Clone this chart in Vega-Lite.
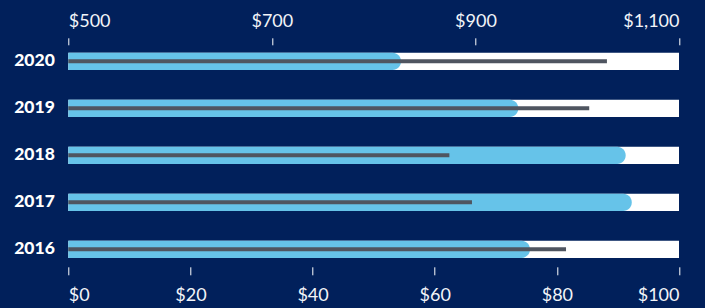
{
  "$schema": "https://vega.github.io/schema/vega-lite/v6.json",
  "autosize": {"type": "none"},
  "padding": {"left": 68.3, "top": 37.8, "right": 26, "bottom": 35.2},
  "width": 610.7,
  "height": 235,
  "background": "#01205B",
  "config": {
    "view": {"stroke": null},
    "font": "Lato",
    "axis": {"grid": false, "domain": false}
  },
  "data": {
    "values": [
      {"year": "2020", "price": 826.9, "cost": 88.2, "lo": 500, "hi": 1100},
      {"year": "2019", "price": 942.1, "cost": 85.3, "lo": 500, "hi": 1100},
      {"year": "2018", "price": 1047.6, "cost": 62.4, "lo": 500, "hi": 1100},
      {"year": "2017", "price": 1053.6, "cost": 66.1, "lo": 500, "hi": 1100},
      {"year": "2016", "price": 953.6, "cost": 81.5, "lo": 500, "hi": 1100}
    ]
  },
  "encoding": {
    "y": {
      "field": "year",
      "type": "nominal",
      "sort": "descending",
      "scale": {"paddingInner": 0, "paddingOuter": 0},
      "axis": {
        "title": null,
        "ticks": false,
        "labelColor": "#FFFFFF",
        "labelFont": "Lato",
        "labelFontWeight": 900,
        "labelFontSize": 17.5,
        "labelPadding": 14
      }
    }
  },
  "layer": [
    {
      "layer": [
        {
          "mark": {"type": "bar", "color": "#FFFFFF", "size": 17.3},
          "encoding": {
            "x": {
              "field": "lo",
              "type": "quantitative",
              "scale": {"domain": [500, 1100], "nice": false, "zero": false},
              "axis": {
                "orient": "top",
                "title": null,
                "values": [500, 700, 900, 1100],
                "format": "$,.0f",
                "offset": -7,
                "tickSize": 7,
                "tickColor": "#FFFFFF",
                "tickWidth": 1,
                "labelColor": "#F2F4F8",
                "labelFontSize": 18,
                "labelPadding": 7
              }
            },
            "x2": {"field": "hi"}
          }
        },
        {
          "mark": {"type": "bar", "color": "#66C3E9", "size": 17.3, "cornerRadiusTopRight": 8.5, "cornerRadiusBottomRight": 8.5},
          "encoding": {
            "x": {"field": "lo", "type": "quantitative"},
            "x2": {"field": "price"}
          }
        }
      ]
    },
    {
      "mark": {"type": "bar", "color": "#4F5560", "size": 4},
      "encoding": {
        "x": {
          "field": "cost",
          "type": "quantitative",
          "scale": {"domain": [0, 100], "nice": false},
          "axis": {
            "orient": "bottom",
            "title": null,
            "values": [0, 20, 40, 60, 80, 100],
            "format": "$,.0f",
            "offset": -6,
            "tickSize": 8,
            "tickColor": "#FFFFFF",
            "tickWidth": 1,
            "labelColor": "#F2F4F8",
            "labelFontSize": 18,
            "labelPadding": 12
          }
        }
      }
    }
  ],
  "resolve": {"scale": {"x": "independent"}, "axis": {"x": "independent"}}
}
